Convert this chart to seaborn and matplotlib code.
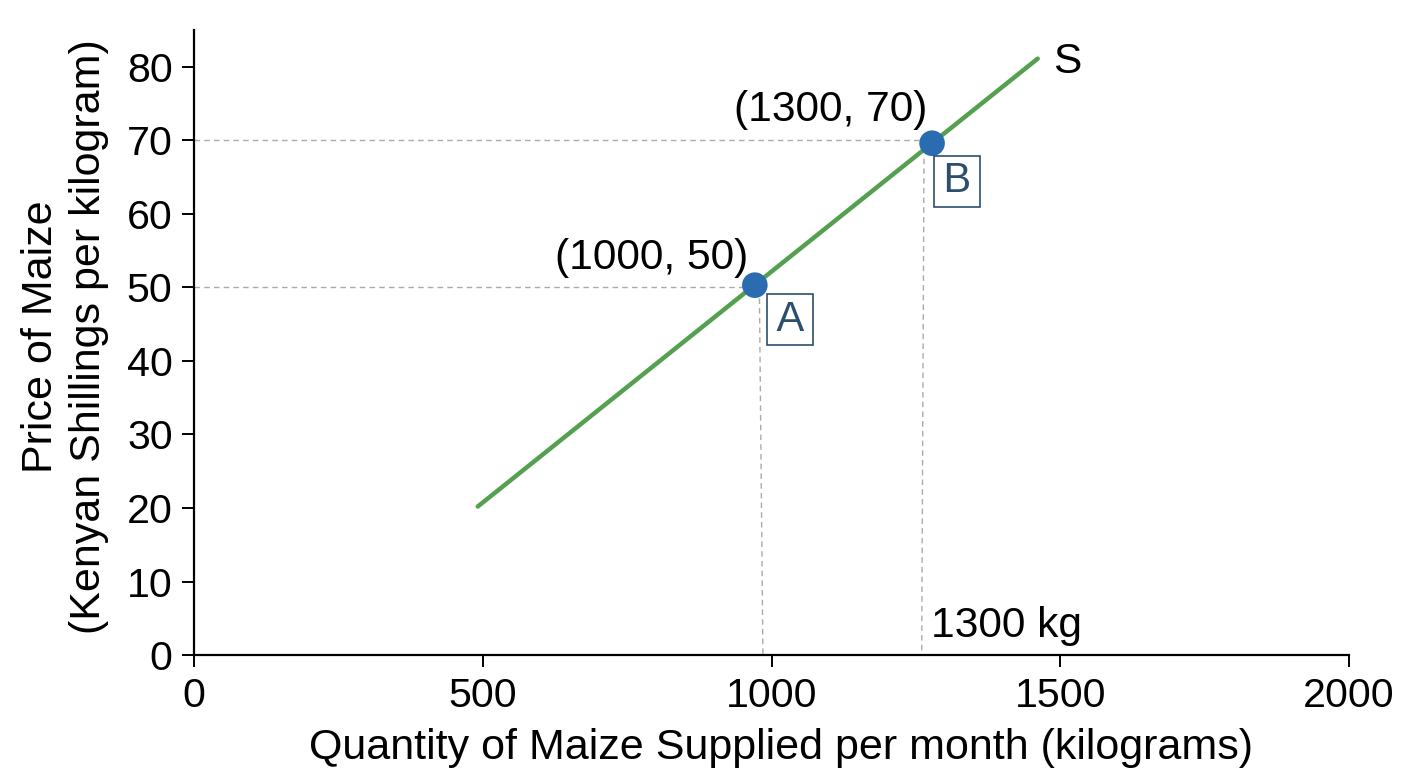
import numpy as np
import pandas as pd
import matplotlib
matplotlib.use("Agg")
import matplotlib.pyplot as plt
import seaborn as sns

# Supply curve end points
supply_q = [491, 1461]
supply_p = [20.2, 81.1]

# Marked points on the curve
point_names = ["A", "B"]
point_q = [971, 1278]
point_p = [50.3, 69.6]
coord_labels = ["(1000, 50)", "(1300, 70)"]
coord_label_q = [793, 1103]
coord_label_p = [54.0, 74.1]
box_label_q = [1032, 1321]
box_label_p = [45.6, 64.4]

# Dashed guide lines: horizontal (price level) and drop lines to the x axis
guide_h_p = [50, 70]
guide_h_q_end = [971, 1278]
guide_v_q_top = [979, 1264]
guide_v_p_top = [48.5, 67.5]
guide_v_q_bottom = [985, 1260]

x_ticks = [0, 500, 1000, 1500, 2000]
y_ticks = [0, 10, 20, 30, 40, 50, 60, 70, 80]

sns.set_theme(style="ticks")
plt.rcParams["font.family"] = ["Liberation Sans", "DejaVu Sans"]

fig, ax = plt.subplots(figsize=(7.04, 3.84), dpi=200)
fig.subplots_adjust(left=0.138, right=0.958, bottom=0.147, top=0.961)

guide_kw = dict(color="#aaaaaa", linestyle=(0, (4, 3)), linewidth=0.5, zorder=1)
for p, q_end in zip(guide_h_p, guide_h_q_end):
    ax.plot([0, q_end], [p, p], **guide_kw)
for qt, pt, qb in zip(guide_v_q_top, guide_v_p_top, guide_v_q_bottom):
    ax.plot([qt, qb], [pt, 0], **guide_kw)

supply = pd.DataFrame({"q": supply_q, "p": supply_p})
sns.lineplot(data=supply, x="q", y="p", color="#55a04f", linewidth=1.6, ax=ax, zorder=2)

pts = pd.DataFrame({"q": point_q, "p": point_p, "name": point_names})
sns.scatterplot(data=pts, x="q", y="p", color="#2b6cb0", s=85, edgecolor="none", ax=ax, zorder=3)

for lab, x, y in zip(coord_labels, coord_label_q, coord_label_p):
    ax.text(x, y, lab, fontsize=15.3, ha="center", va="center", color="black")

for name, x, y in zip(point_names, box_label_q, box_label_p):
    ax.text(x, y, "\u200a" + name + "\u200a", fontsize=15, ha="center", va="center", color="#2c4f6e",
            bbox=dict(boxstyle="square,pad=0.13", facecolor="white", edgecolor="#2c4f6e", linewidth=0.6))

ax.text(1513, 80.7, "S", fontsize=15.3, ha="center", va="center", color="black")
ax.text(1276, 3.9, "1300 kg", fontsize=15.3, ha="left", va="center", color="black")

ax.set_xlim(0, 2000)
ax.set_ylim(0, 85)
ax.set_xticks(x_ticks)
ax.set_yticks(y_ticks)
ax.tick_params(labelsize=14.8, length=4.3, width=0.7, colors="black")
for side in ["left", "bottom"]:
    ax.spines[side].set_linewidth(0.8)
    ax.spines[side].set_color("black")
sns.despine(ax=ax)

ax.set_xlabel("Quantity of Maize Supplied per month (kilograms)", fontsize=15.5, color="black")
ax.set_ylabel("Price of Maize\n(Kenyan Shillings per kilogram)", fontsize=15.5,
              color="black", linespacing=1.25)
ax.xaxis.set_label_coords(0.508, -0.116)
ax.yaxis.set_label_coords(-0.074, 0.51)

fig.savefig("out.png", dpi=200)
